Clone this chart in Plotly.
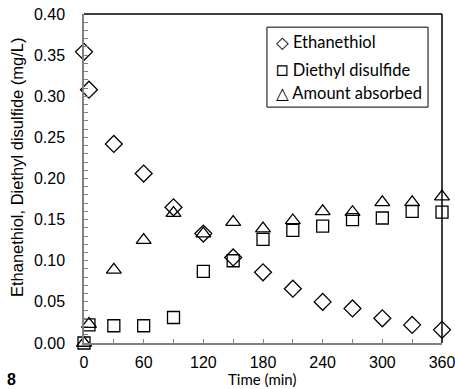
import plotly.graph_objects as go

time_min = [0, 5, 30, 60, 90, 120, 150, 180, 210, 240, 270, 300, 330, 360]
ethanethiol = [0.354, 0.308, 0.242, 0.206, 0.165, 0.133, 0.104, 0.086, 0.066, 0.050, 0.042, 0.030, 0.022, 0.016]
diethyl_disulfide = [0.000, 0.022, 0.021, 0.021, 0.031, 0.087, 0.100, 0.126, 0.137, 0.142, 0.150, 0.152, 0.160, 0.159]
amount_absorbed = [0.000, 0.023, 0.089, 0.125, 0.158, 0.133, 0.147, 0.139, 0.149, 0.160, 0.159, 0.171, 0.171, 0.178]

series_names = ["Ethanethiol", "Diethyl disulfide", "Amount absorbed"]
series_values = [ethanethiol, diethyl_disulfide, amount_absorbed]
series_symbols = ["diamond-open", "square-open", "triangle-up-open"]
legend_glyphs = ["◇", '<span style="font-size:21px">□</span>', "△"]

fig = go.Figure()
for name, vals, sym in zip(series_names, series_values, series_symbols):
    fig.add_trace(go.Scatter(
        x=time_min, y=vals, mode="markers", name=name, cliponaxis=False, showlegend=False,
        marker=dict(symbol=sym, size=13 if sym != "square-open" else 12, color="black",
                    line=dict(color="black", width=1.3)),
    ))

tick_font = dict(family="Liberation Sans, Arial", size=16, color="black")
fig.update_layout(
    width=455, height=389,
    margin=dict(l=84, r=13, t=14, b=46),
    plot_bgcolor="white", paper_bgcolor="white",
    showlegend=False,
    xaxis=dict(
        range=[0, 360], dtick=60, tick0=0, ticks="inside", ticklen=4, tickcolor="#808080",
        minor=dict(dtick=30, ticks="inside", ticklen=4, tickcolor="#808080"),
        showgrid=False, zeroline=False, showline=True, linecolor="#808080", linewidth=1.5,
        tickfont=tick_font, automargin=False, ticklabelstandoff=4, ticklabeloverflow="allow",
    ),
    yaxis=dict(
        range=[0, 0.40], dtick=0.05, tick0=0, tickformat=".2f", ticks="inside", ticklen=4, tickcolor="#808080",
        minor=dict(dtick=0.01, ticks="inside", ticklen=4, tickcolor="#808080"),
        showgrid=False, zeroline=False, showline=True, linecolor="#808080", linewidth=1.5,
        tickfont=tick_font, automargin=False, ticklabelstandoff=14, ticklabeloverflow="allow",
    ),
)
# top and right frame lines
fig.add_shape(type="line", xref="paper", yref="paper", x0=0, x1=1, y0=1, y1=1, line=dict(color="black", width=1.5))
fig.add_shape(type="line", xref="paper", yref="paper", x0=1, x1=1, y0=0, y1=1, line=dict(color="black", width=1.5))

# legend (text box with symbol glyphs, as in the reference)
fig.add_shape(type="rect", xref="paper", yref="paper", x0=0.511, x1=0.961, y0=0.717, y1=0.960,
              line=dict(color="black", width=1), fillcolor="white", layer="above")
legend_y = [0.915, 0.836, 0.760]
for glyph, name, ly in zip(legend_glyphs, series_names, legend_y):
    fig.add_annotation(text=f"{glyph} {name}", xref="paper", yref="paper", x=0.530, y=ly,
                       xanchor="left", yanchor="middle", showarrow=False,
                       font=dict(family="Lato, DejaVu Sans", size=16.5, color="black"))

# axis titles
fig.add_annotation(text="Time (min)", xref="paper", yref="paper", x=0.497, y=-0.1094,
                   xanchor="center", yanchor="middle", showarrow=False,
                   font=dict(family="Lato, Open Sans", size=15, color="black"))
fig.add_annotation(text="Ethanethiol, Diethyl disulfide (mg/L)", xref="paper", yref="paper",
                   x=-0.187, y=0.535, xanchor="center", yanchor="middle", textangle=-90, showarrow=False,
                   font=dict(family="Liberation Sans, Arial", size=16.5, color="black"))

fig.add_annotation(text="<b>8</b>", xref="paper", yref="paper", x=-0.222, y=-0.112,
                   xanchor="left", yanchor="middle", showarrow=False,
                   font=dict(family="Liberation Sans, Arial", size=16, color="black"))

fig.write_html("out.html", config={"displayModeBar": False},
               post_script="document.body.style.margin='0';")
